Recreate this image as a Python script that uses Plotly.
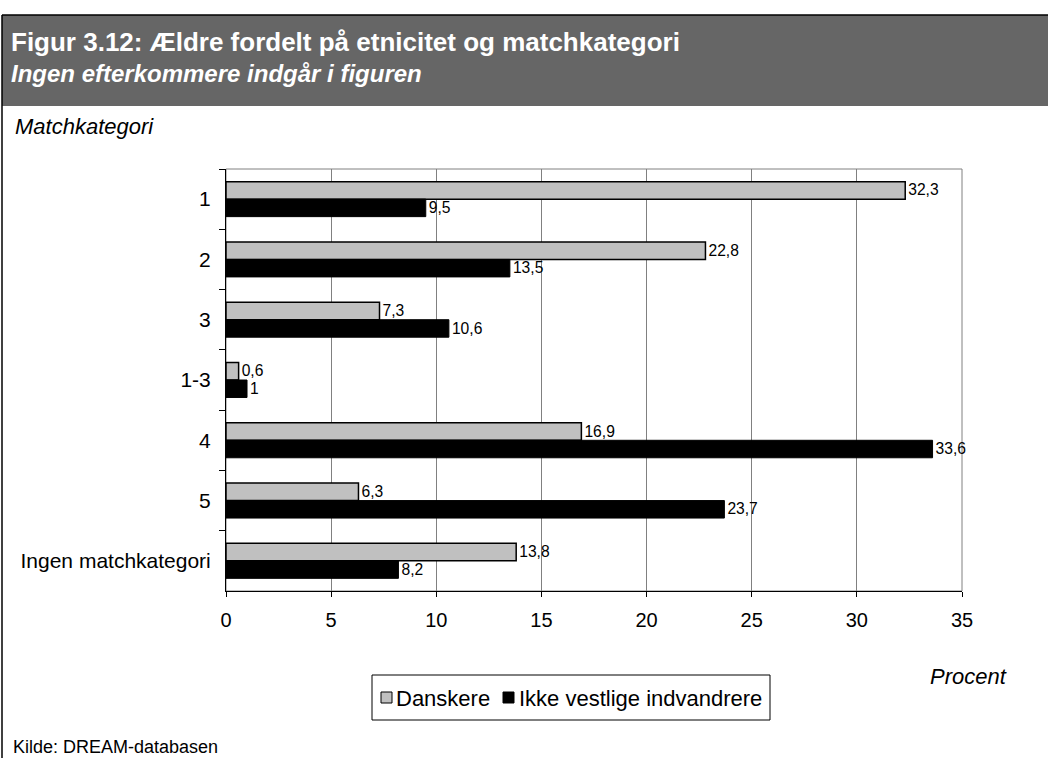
import plotly.graph_objects as go

categories = ["1", "2", "3", "1-3", "4", "5", "Ingen matchkategori"]
danskere = [32.3, 22.8, 7.3, 0.6, 16.9, 6.3, 13.8]
ikke_vestlige = [9.5, 13.5, 10.6, 1, 33.6, 23.7, 8.2]
series_names = ["Danskere", "Ikke vestlige indvandrere"]
x_ticks = [0, 5, 10, 15, 20, 25, 30, 35]

FONT = "Liberation Sans, Arial, sans-serif"
GRAY = "#C0C0C0"

# plot area in pixels (Excel-like layout)
W, H = 1048, 758
L, R, T, B = 226, 962, 169, 591


def px(x):
    return (x - L) / (R - L)


def py(y):
    return (B - y) / (B - T)


def fmt(v):
    return str(v).replace(".", ",")


fig = go.Figure()
fig.add_trace(go.Bar(
    y=categories, x=danskere, orientation="h", name=series_names[0],
    marker=dict(color=GRAY, line=dict(color="black", width=1.5)),
    text=[fmt(v) for v in danskere], textposition="outside",
    textfont=dict(family=FONT, size=17, color="black"), cliponaxis=False,
))
fig.add_trace(go.Bar(
    y=categories, x=ikke_vestlige, orientation="h", name=series_names[1],
    marker=dict(color="black", line=dict(color="black", width=1)),
    text=[fmt(v) for v in ikke_vestlige], textposition="outside",
    textfont=dict(family=FONT, size=17, color="black"), cliponaxis=False,
))

shapes = [
    # header band
    dict(type="rect", x0=px(2), x1=px(W + 5), y0=py(106), y1=py(15),
         fillcolor="#666666", line=dict(width=0), layer="above"),
    dict(type="line", x0=px(2), x1=px(W + 5), y0=py(15), y1=py(15),
         line=dict(color="black", width=1.5)),
    dict(type="line", x0=px(2), x1=px(2), y0=py(15), y1=py(H + 5),
         line=dict(color="black", width=1.5)),
    # plot frame
    dict(type="rect", x0=0, x1=1, y0=0, y1=1,
         line=dict(color="#808080", width=1), layer="below"),
    # legend box and keys
    dict(type="rect", x0=px(372), x1=px(770), y0=py(720), y1=py(675),
         fillcolor="white", line=dict(color="black", width=1)),
    dict(type="rect", x0=px(381), x1=px(392), y0=py(703), y1=py(692),
         fillcolor=GRAY, line=dict(color="black", width=1)),
    dict(type="rect", x0=px(503), x1=px(514), y0=py(703), y1=py(692),
         fillcolor="black", line=dict(color="black", width=1)),
]
for s in shapes:
    s.update(xref="paper", yref="paper")

annotations = [
    dict(text="<b>Figur 3.12: Ældre fordelt på etnicitet og matchkategori</b>",
         x=px(9), y=py(42), xanchor="left", font=dict(size=26, color="white")),
    dict(text="<b><i>Ingen efterkommere indgår i figuren</i></b>",
         x=px(9), y=py(73), xanchor="left", font=dict(size=24, color="white")),
    dict(text="<i>Matchkategori</i>", x=px(13), y=py(127), xanchor="left",
         font=dict(size=22)),
    dict(text="<i>Procent</i>", x=px(1009), y=py(676), xanchor="right",
         font=dict(size=22)),
    dict(text=series_names[0], x=px(394), y=py(698), xanchor="left",
         font=dict(size=22)),
    dict(text=series_names[1], x=px(517), y=py(698), xanchor="left",
         font=dict(size=22)),
    dict(text="Kilde: DREAM-databasen", x=px(11), y=py(747), xanchor="left",
         font=dict(size=18)),
]
for a in annotations:
    a.update(xref="paper", yref="paper", showarrow=False, yanchor="middle")
    a["font"].update(family=FONT)
    a["font"].setdefault("color", "black")

fig.update_layout(
    width=W, height=H,
    margin=dict(l=L, r=W - R, t=T, b=H - B, pad=0),
    paper_bgcolor="white", plot_bgcolor="white",
    barmode="group", bargap=0.42, bargroupgap=0,
    font=dict(family=FONT, size=20, color="black"),
    shapes=shapes, annotations=annotations,
    showlegend=False,
    xaxis=dict(range=[0, 35], tickvals=x_ticks, showgrid=True, gridcolor="#808080", gridwidth=1,
               showline=True, linecolor="black", linewidth=1, ticks="outside", ticklen=5,
               tickcolor="black", zeroline=False, fixedrange=True, ticklabelstandoff=6,
               tickfont=dict(size=20)),
    yaxis=dict(autorange="reversed", showline=True, linecolor="black", linewidth=1,
               ticks="outside", ticklen=6, tickcolor="black", tickson="boundaries",
               showgrid=False, ticklabelstandoff=10, tickfont=dict(size=21)),
)

fig.write_html("out.html", config={"displayModeBar": False},
               post_script="document.body.style.margin='0px';")
